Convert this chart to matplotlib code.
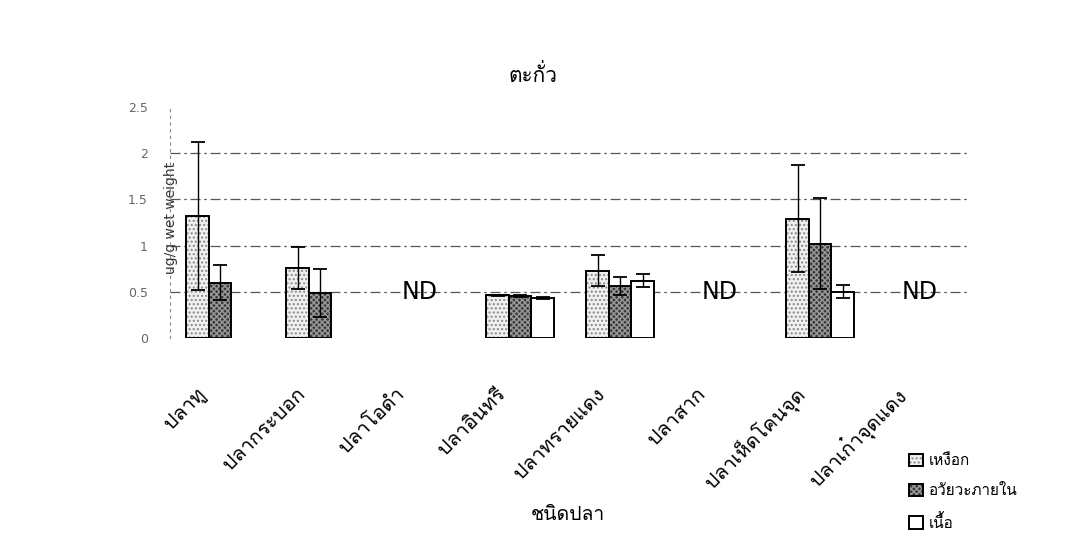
import matplotlib
matplotlib.use("Agg")
import matplotlib.pyplot as plt
import matplotlib.transforms as mtransforms
from matplotlib.legend_handler import HandlerTuple
import numpy as np
from matplotlib import font_manager
from matplotlib.ft2font import FT2Font

# ---- data ----
categories = ["ปลาทู", "ปลากระบอก", "ปลาโอดำ", "ปลาอินทรี", "ปลาทรายแดง",
              "ปลาสาก", "ปลาเห็ดโคนจุด", "ปลาเก๋าจุดแดง"]
series_names = ["เหงือก", "อวัยวะภายใน", "เนื้อ"]
gill = [1.32, 0.76, np.nan, 0.46, 0.73, np.nan, 1.29, np.nan]
gill_err = [0.80, 0.23, np.nan, 0.01, 0.17, np.nan, 0.58, np.nan]
internal = [0.60, 0.49, np.nan, 0.45, 0.56, np.nan, 1.02, np.nan]
internal_err = [0.19, 0.26, np.nan, 0.01, 0.10, np.nan, 0.49, np.nan]
flesh = [np.nan, np.nan, np.nan, 0.43, 0.62, np.nan, 0.50, np.nan]
flesh_err = [np.nan, np.nan, np.nan, 0.01, 0.07, np.nan, 0.07, np.nan]
nd_positions = [2, 5, 7]
yticks = [0, 0.5, 1, 1.5, 2, 2.5]
ytick_labels = ["0", "0.5", "1", "1.5", "2", "2.5"]
title = "ตะกั่ว"
xlabel = "ชนิดปลา"
ylabel = "ug/g wet weight"

# ---- find a font with Thai glyphs ----
thai_family = None
for f in font_manager.fontManager.ttflist:
    try:
        if 0x0E01 in FT2Font(f.fname).get_charmap():
            thai_family = f.name
            break
    except Exception:
        pass
fams = ([thai_family] if thai_family else []) + ["DejaVu Sans"]
plt.rcParams["font.family"] = fams

fig = plt.figure(figsize=(10.8, 5.54), dpi=100)
ax = fig.add_axes([170/1080, 1-338/554, 800/1080, 231/554])

x = np.arange(len(categories))
w = 0.225
fill_styles = [dict(facecolor="#f0f0f0", hatch="....", edgecolor="#8a8a8a"),
               dict(facecolor="#3a3a3a", hatch="xxxxxx", edgecolor="#9a9a9a"),
               dict(facecolor="white", hatch="", edgecolor="white")]
data = [(gill, gill_err), (internal, internal_err), (flesh, flesh_err)]
handles = []
for i, ((vals, errs), st) in enumerate(zip(data, fill_styles)):
    fb = ax.bar(x + (i-1)*w, vals, w, linewidth=0, zorder=2, **st)
    ob = ax.bar(x + (i-1)*w, vals, w, yerr=errs, facecolor="none",
                edgecolor="black", linewidth=1.4,
                error_kw=dict(ecolor="black", elinewidth=1.0, capsize=5, capthick=1.3,
                              zorder=4),
                zorder=3)
    handles.append((fb.patches[3], ob.patches[3]))

for p in nd_positions:
    ax.text(p, 0.5, "ND", ha="center", va="center", fontsize=17,
            family="DejaVu Sans", color="black", zorder=4)

for yv in [0.5, 1, 1.5, 2]:
    ax.axhline(yv, color="#555555", lw=0.9, ls=(0, (8, 3, 2, 3)), zorder=1)
ax.axhline(0, color="#888888", lw=0.8, ls=(0, (2, 4)), zorder=1)

ax.set_xlim(-0.5, len(categories)-0.5)
ax.set_ylim(0, 2.5)
ax.set_yticks(yticks)
ax.set_yticklabels(ytick_labels, fontsize=9, color="#666666", family="DejaVu Sans")
ax.set_xticks(x)
ax.set_xticklabels([])
ax.tick_params(axis="x", length=0)
ax.tick_params(axis="y", length=0, pad=16)

# category labels, rotated 45 degrees
lab_tr = ax.get_xaxis_transform() + mtransforms.ScaledTranslation(-0.18, -0.53, fig.dpi_scale_trans)
for xi, name in zip(x, categories):
    ax.text(xi, 0, name, transform=lab_tr, rotation=45, ha="right", va="center",
            rotation_mode="anchor", fontsize=14.5, clip_on=False)

for s in ["top", "right", "bottom"]:
    ax.spines[s].set_visible(False)
ax.spines["left"].set_color("#888888")
ax.spines["left"].set_linestyle((0, (2, 4)))
ax.spines["left"].set_linewidth(0.8)

ax.set_ylabel(ylabel, fontsize=10, color="#333333", family="DejaVu Sans")
ax.yaxis.set_label_coords(0.01, 0.52)
fig.text(533/1080, 1-75/554, title, ha="center", va="center", fontsize=15)
fig.text(568/1080, 1-515/554, xlabel, ha="center", va="center", fontsize=14)

leg = fig.legend(handles, series_names, loc="upper left",
                 bbox_to_anchor=(895/1080, 1-440/554),
                 handler_map={tuple: HandlerTuple(ndivide=1, pad=0)},
                 frameon=False, fontsize=11, handlelength=0.9, handleheight=0.9,
                 labelspacing=1.0, handletextpad=0.4)

fig.savefig("out.png", dpi=100)
